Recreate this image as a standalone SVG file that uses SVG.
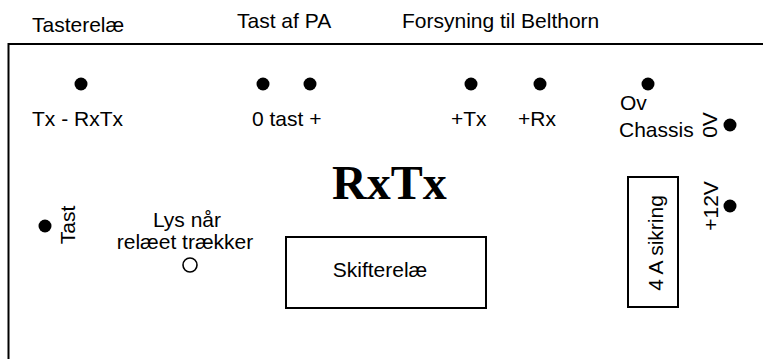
<svg xmlns="http://www.w3.org/2000/svg" width="763" height="359" viewBox="0 0 763 359">
<style>
text{font-family:"Liberation Sans",Arial,sans-serif;font-size:21px;fill:#000}
.mid{text-anchor:middle}
.title{font-family:"Liberation Serif","Times New Roman",serif;font-weight:bold;font-size:48px}
.dot{fill:#000}
.box{fill:none;stroke:#000;stroke-width:2}
</style>
<rect width="763" height="359" fill="#fff"/>
<g id="frame">
<path d="M8.5 359 V44 H763" fill="none" stroke="#000" stroke-width="2"/>
</g>
<g id="top-labels">
<text x="32" y="32">Tasterelæ</text>
<text x="237" y="28">Tast af PA</text>
<text x="402" y="28">Forsyning til Belthorn</text>
</g>
<g id="tx-rxtx"><circle class="dot" cx="81" cy="84" r="6.5"/><text x="32" y="126">Tx - RxTx</text></g>
<g id="tast-pa"><circle class="dot" cx="263" cy="84" r="6.5"/><circle class="dot" cx="310" cy="84" r="6.5"/><text x="252" y="126">0 tast +</text></g>
<g id="plus-tx"><circle class="dot" cx="471" cy="84" r="6.5"/><text x="451" y="126">+Tx</text></g>
<g id="plus-rx"><circle class="dot" cx="540" cy="84" r="6.5"/><text x="518" y="126">+Rx</text></g>
<g id="ov-chassis"><circle class="dot" cx="648" cy="84" r="6.5"/><text x="620" y="110">Ov</text><text x="619" y="137">Chassis</text></g>
<g id="zero-v"><circle class="dot" cx="730" cy="125" r="6.5"/><text class="mid" transform="translate(717,125) rotate(-90)">0V</text></g>
<g id="plus-12v"><circle class="dot" cx="730" cy="206" r="6.5"/><text class="mid" transform="translate(718,206) rotate(-90)">+12V</text></g>
<g id="title"><text class="title" x="332" y="199">RxTx</text></g>
<g id="tast"><circle class="dot" cx="45" cy="226" r="6.5"/><text class="mid" transform="translate(75,225) rotate(-90)">Tast</text></g>
<g id="lys"><text class="mid" x="187" y="227">Lys når</text><text class="mid" x="185" y="249">relæet trækker</text><circle cx="190" cy="265" r="7" fill="none" stroke="#000" stroke-width="1.6"/></g>
<g id="skifterelae"><rect class="box" x="286" y="237" width="200" height="71"/><text class="mid" x="380" y="277">Skifterelæ</text></g>
<g id="sikring"><rect class="box" x="628" y="177" width="50" height="130"/><text class="mid" transform="translate(663,243) rotate(-90)">4 A sikring</text></g>
<g id="connectors"/>
</svg>
